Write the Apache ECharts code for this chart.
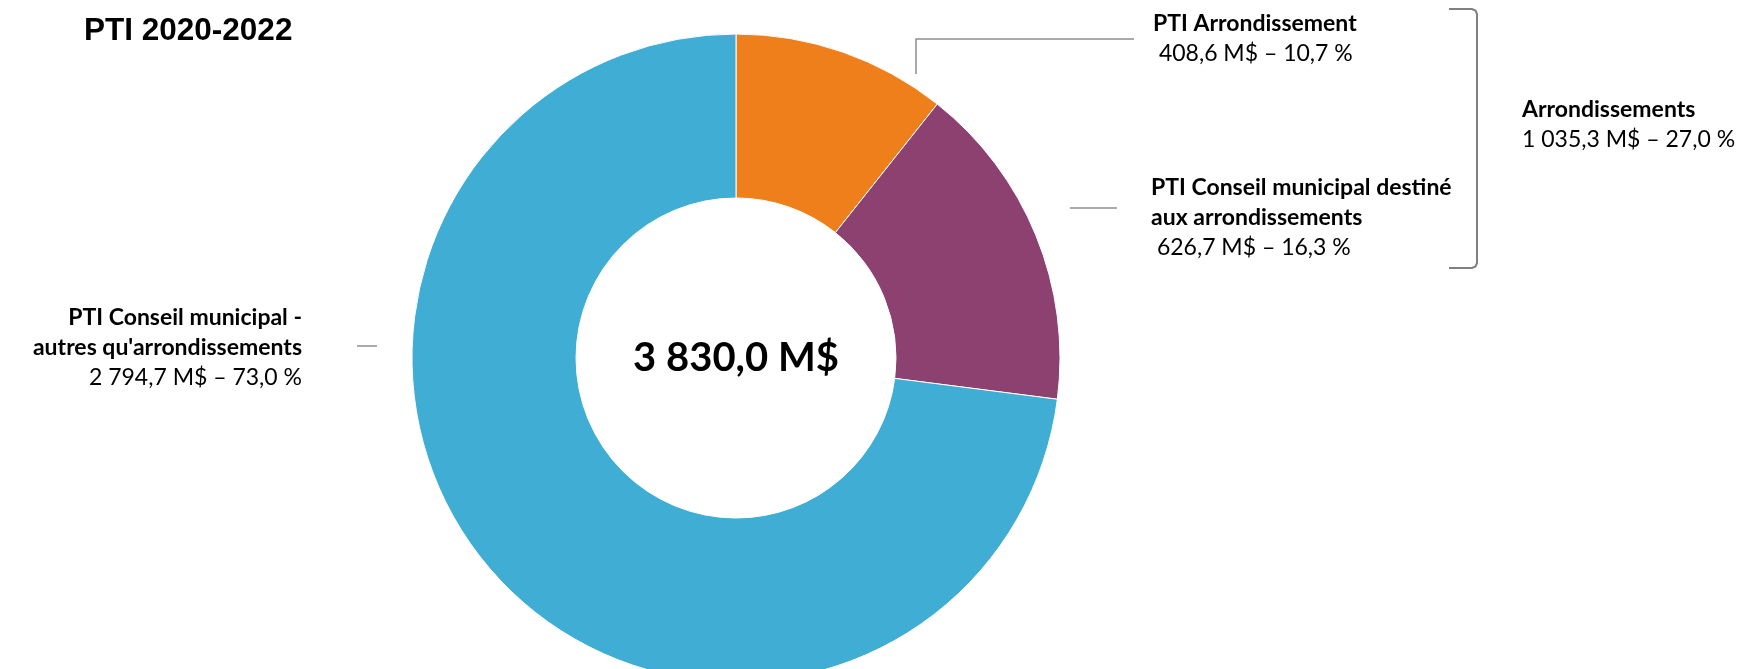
<!DOCTYPE html>
<html>
<head>
<meta charset="utf-8">
<title>PTI 2020-2022</title>
<script src="https://cdn.jsdelivr.net/npm/echarts@6/dist/echarts.min.js"></script>
<style>
  html, body { margin: 0; padding: 0; background: #fff; }
  #main { width: 1752px; height: 669px; }
</style>
</head>
<body>
<div id="main"></div>
<script>
// data
const names = ['PTI Arrondissement', 'PTI Conseil municipal destiné\naux arrondissements', "PTI Conseil municipal -\nautres qu'arrondissements"]
const values = [408.6, 626.7, 2794.7]          // M$
const shares = [10.7, 16.3, 73.0]              // % as printed on the chart
const colors = ['#EE7F1A', '#8C4171', '#40ADD4']
const groupName = 'Arrondissements'
const groupMembers = [0, 1]
const groupShare = 27.0

// label placement (Excel style layout)
const labelPos = [
  { x: 1153, y: 9, align: 'left', pad: ' ', line: [[916, 74], [916, 39], [1134, 39]] },
  { x: 1151, y: 173, align: 'left', pad: ' ', line: [[1070, 208], [1117, 208]] },
  { x: 302, y: 303, align: 'right', pad: '', line: [[357, 346], [377, 346]] }
]

const FONT = 'Lato, "Open Sans", sans-serif'

// 2794.7 -> "2 794,7"
function fr(v) {
  const parts = v.toFixed(1).split('.')
  return parts[0].replace(/\B(?=(\d{3})+(?!\d))/g, ' ') + ',' + parts[1]
}

const total = values.reduce((a, b) => a + b, 0)
const groupValue = groupMembers.reduce((a, i) => a + values[i], 0)

const rich = {
  b: { fontFamily: FONT, fontWeight: 'bold', fontSize: 23, lineHeight: 30, color: '#000' },
  v: { fontFamily: FONT, fontSize: 23, lineHeight: 30, color: '#000' }
}

const chart = echarts.init(document.getElementById('main'))

const option = {
  animation: false,
  backgroundColor: '#fff',
  title: {
    text: 'PTI 2020-2022',
    left: 84,
    top: 15,
    padding: 0,
    textStyle: { fontFamily: '"Liberation Sans", Arial, sans-serif', fontWeight: 'bold', fontSize: 31.5, color: '#000' }
  },
  series: [
    {
      type: 'pie',
      center: [736, 358],
      radius: [160, 324],
      startAngle: 90,
      clockwise: true,
      avoidLabelOverlap: false,
      itemStyle: { borderColor: '#fff', borderWidth: 1 },
      data: names.map((n, i) => ({ name: n, value: values[i], itemStyle: { color: colors[i] } })),
      label: {
        show: true,
        position: 'outside',
        formatter: p => '{b|' + p.name + '}\n{v|' + labelPos[p.dataIndex].pad + fr(p.value) + ' M$ – ' + fr(shares[p.dataIndex]) + ' %}',
        rich: rich
      },
      labelLine: {
        show: true,
        lineStyle: { color: '#8f8f8f', width: 1.5 }
      },
      labelLayout: params => {
        const pos = labelPos[params.dataIndex]
        return {
          x: pos.x,
          y: pos.y,
          align: pos.align,
          verticalAlign: 'top',
          labelLinePoints: pos.line
        }
      }
    }
  ],
  graphic: [
    // total in the hole
    {
      type: 'text',
      x: 736,
      y: 358,
      style: {
        text: fr(total) + ' M$',
        align: 'center',
        verticalAlign: 'middle',
        font: 'bold 40px ' + FONT,
        fill: '#000'
      }
    },
    // bracket grouping the two arrondissement slices
    {
      type: 'polyline',
      shape: { points: [[1449, 9], [1472, 9], [1475.5, 10.5], [1477, 14], [1477, 263], [1475.5, 266.5], [1472, 268], [1449, 268]] },
      style: { stroke: '#808080', lineWidth: 2, fill: null }
    },
    {
      type: 'text',
      x: 1522,
      y: 95,
      style: {
        text: '{b|' + groupName + '}\n{v|' + fr(groupValue) + ' M$ – ' + fr(groupShare) + ' %}',
        rich: rich,
        align: 'left',
        verticalAlign: 'top'
      }
    }
  ]
}

chart.setOption(option)
</script>
</body>
</html>
